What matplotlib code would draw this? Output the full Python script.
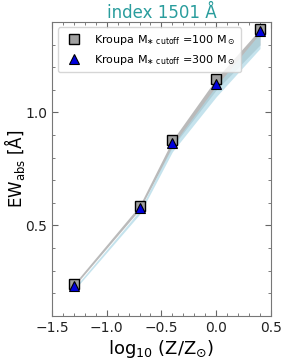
import matplotlib
matplotlib.use('Agg')
import matplotlib.pyplot as plt
import numpy as np
from matplotlib.ticker import MultipleLocator

# log10(Z/Zsun) and EW values
logz = [-1.3, -0.7, -0.4, 0.0, 0.4]
ew_100 = [0.241, 0.588, 0.877, 1.149, 1.368]
ew_300 = [0.232, 0.575, 0.864, 1.127, 1.360]
band_w = [0.012, 0.018, 0.03, 0.05, 0.07]

font = {'family': 'DejaVu Sans', 'size': 9}
matplotlib.rc('font', **font)

fig = plt.figure(figsize=(2.87, 3.59), dpi=100)
ax = fig.add_axes([0.181, 0.120, 0.763, 0.819])

lo100 = np.array(ew_100) - np.array(band_w)
lo300 = np.array(ew_300) - np.array(band_w)
ax.fill_between(logz, lo100, ew_100, color='#a9a9a9', alpha=0.8, lw=0)
ax.fill_between(logz, lo300 - 0.008, np.array(ew_300) - 0.01, color='#add8e6', alpha=0.7, lw=0)

ax.plot(logz, ew_100, ls='none', marker='s', ms=7, mfc='#a0a0a0', mec='k', mew=1,
        label=r'Kroupa M$_{\ast\ \rm cutoff}$ =100 M$_\odot$')
ax.plot(logz, ew_300, ls='none', marker='^', ms=7, mfc='#0000dd', mec='k', mew=0.8,
        label=r'Kroupa M$_{\ast\ \rm cutoff}$ =300 M$_\odot$')

ax.set_xlim(-1.5, 0.5)
ax.set_ylim(0.1, 1.4)
ax.xaxis.set_major_locator(MultipleLocator(0.5))
ax.xaxis.set_minor_locator(MultipleLocator(0.1))
ax.yaxis.set_major_locator(MultipleLocator(0.5))
ax.yaxis.set_minor_locator(MultipleLocator(0.1))
ax.tick_params(which='both', direction='in', top=True, right=True, colors='#666666',
               labelcolor='#222222', labelsize=10)
ax.tick_params(which='major', length=4)
ax.tick_params(which='minor', length=2)
for s in ax.spines.values():
    s.set_color('#777777')

ax.set_xlabel(r'log$_{10}$ (Z/Z$_{\odot}$)', fontsize=13, labelpad=2)
ax.set_ylabel(r'EW$_{\rm abs}$ [Å]', fontsize=12)
ax.yaxis.set_label_coords(-0.115, 0.5)
ax.set_title('index 1501 Å', color='#2a9d9d', fontsize=12, pad=2)

ax.legend(loc='upper left', fontsize=8, handletextpad=0.8, borderpad=0.5,
          framealpha=0.8)

plt.savefig('out.png', dpi=100)
